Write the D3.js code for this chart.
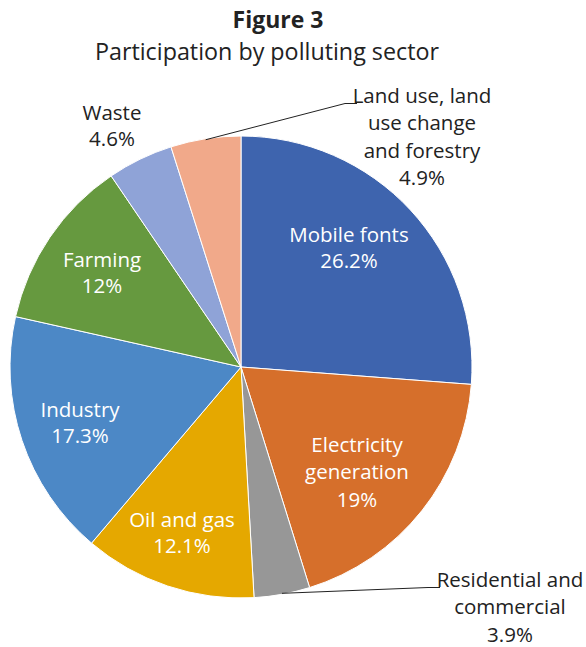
<!DOCTYPE html>
<html lang="en">
<head>
  <meta charset="UTF-8" />
  <title>Participation by polluting sector</title>
  <script src="https://d3js.org/d3.v7.min.js"></script>
  <style>
    body { margin: 0; background: white; }
    text { font-family: "Open Sans", Lato, sans-serif; fill: #222; }
  </style>
</head>
<body>
  <div id="chart"></div>
  <script>
  // data
  var sectors = ["Mobile fonts", "Electricity generation", "Residential and commercial",
                 "Oil and gas", "Industry", "Farming", "Waste", "Land use, land use change and forestry"];
  var shares = [26.2, 19, 3.9, 12.1, 17.3, 12, 4.6, 4.9];
  var shareLabels = ["26.2%", "19%", "3.9%", "12.1%", "17.3%", "12%", "4.6%", "4.9%"];
  var colors = ["#3e64ae", "#d66f2b", "#979797", "#e5a800", "#4c88c6", "#66993f", "#8fa3d7", "#f1a98a"];
  var nameLines = [["Mobile fonts"], ["Electricity", "generation"], ["Residential and", "commercial"],
                   ["Oil and gas"], ["Industry"], ["Farming"], ["Waste"], ["Land use, land", "use change", "and forestry"]];

  var width = 586, height = 647;
  var cx = 241, cy = 367, R = 231;

  // label placement (centre x, first baseline) in page pixels, as in the original layout
  var labelPos = [[349, 242], [357, 452], [510, 587], [182, 527], [80, 417], [102, 267], [112, 120], [422, 103]];
  var leaders = { 2: 440, 7: 357 }; // x where the leader line meets the label

  var svg = d3.select("#chart").append("svg")
      .attr("width", width)
      .attr("height", height);

  // title
  svg.append("text")
    .attr("x", 278).attr("y", 28)
    .attr("text-anchor", "middle")
    .style("font-size", "23px").style("font-weight", "bold")
    .text("Figure 3");
  svg.append("text")
    .attr("x", 267).attr("y", 60)
    .attr("text-anchor", "middle")
    .style("font-size", "23.3px")
    .text("Participation by polluting sector");

  var data = sectors.map(function (s, i) {
    return { name: s, value: shares[i], label: shareLabels[i], color: colors[i], lines: nameLines[i] };
  });

  var pie = d3.pie().sort(null).value(function (d) { return d.value; });
  var arcs = pie(data);
  var arc = d3.arc().innerRadius(0).outerRadius(R);

  var g = svg.append("g").attr("transform", "translate(" + cx + "," + cy + ")");

  g.selectAll("path.slice")
    .data(arcs)
    .enter().append("path")
      .attr("class", "slice")
      .attr("d", arc)
      .style("fill", function (d) { return d.data.color; })
      .style("stroke", "white")
      .style("stroke-width", 1);

  arcs.forEach(function (a, i) {
    var lines = a.data.lines.concat([a.data.label]);
    var px = labelPos[i][0], py = labelPos[i][1];
    var lh = lines.length > 2 ? 27.3 : 25.7;

    if (leaders[i] != null) {
      var mid = (a.startAngle + a.endAngle) / 2;
      var sx = cx + Math.sin(mid) * (R - 1), sy = cy - Math.cos(mid) * (R - 1);
      var ex = leaders[i], ey = py + 0.5;
      svg.append("path")
        .attr("d", "M" + sx + "," + sy + "L" + (ex - 12) + "," + ey + "L" + ex + "," + ey)
        .style("fill", "none")
        .style("stroke", "#222")
        .style("stroke-width", 1);
    }

    var t = svg.append("text")
      .attr("text-anchor", "middle")
      .style("font-size", "20.5px")
      .style("fill", (i < 6 && i != 2) ? "white" : "#222");
    lines.forEach(function (l, k) {
      t.append("tspan").attr("x", px).attr("y", py + k * lh).text(l);
    });
  });
  </script>
</body>
</html>
